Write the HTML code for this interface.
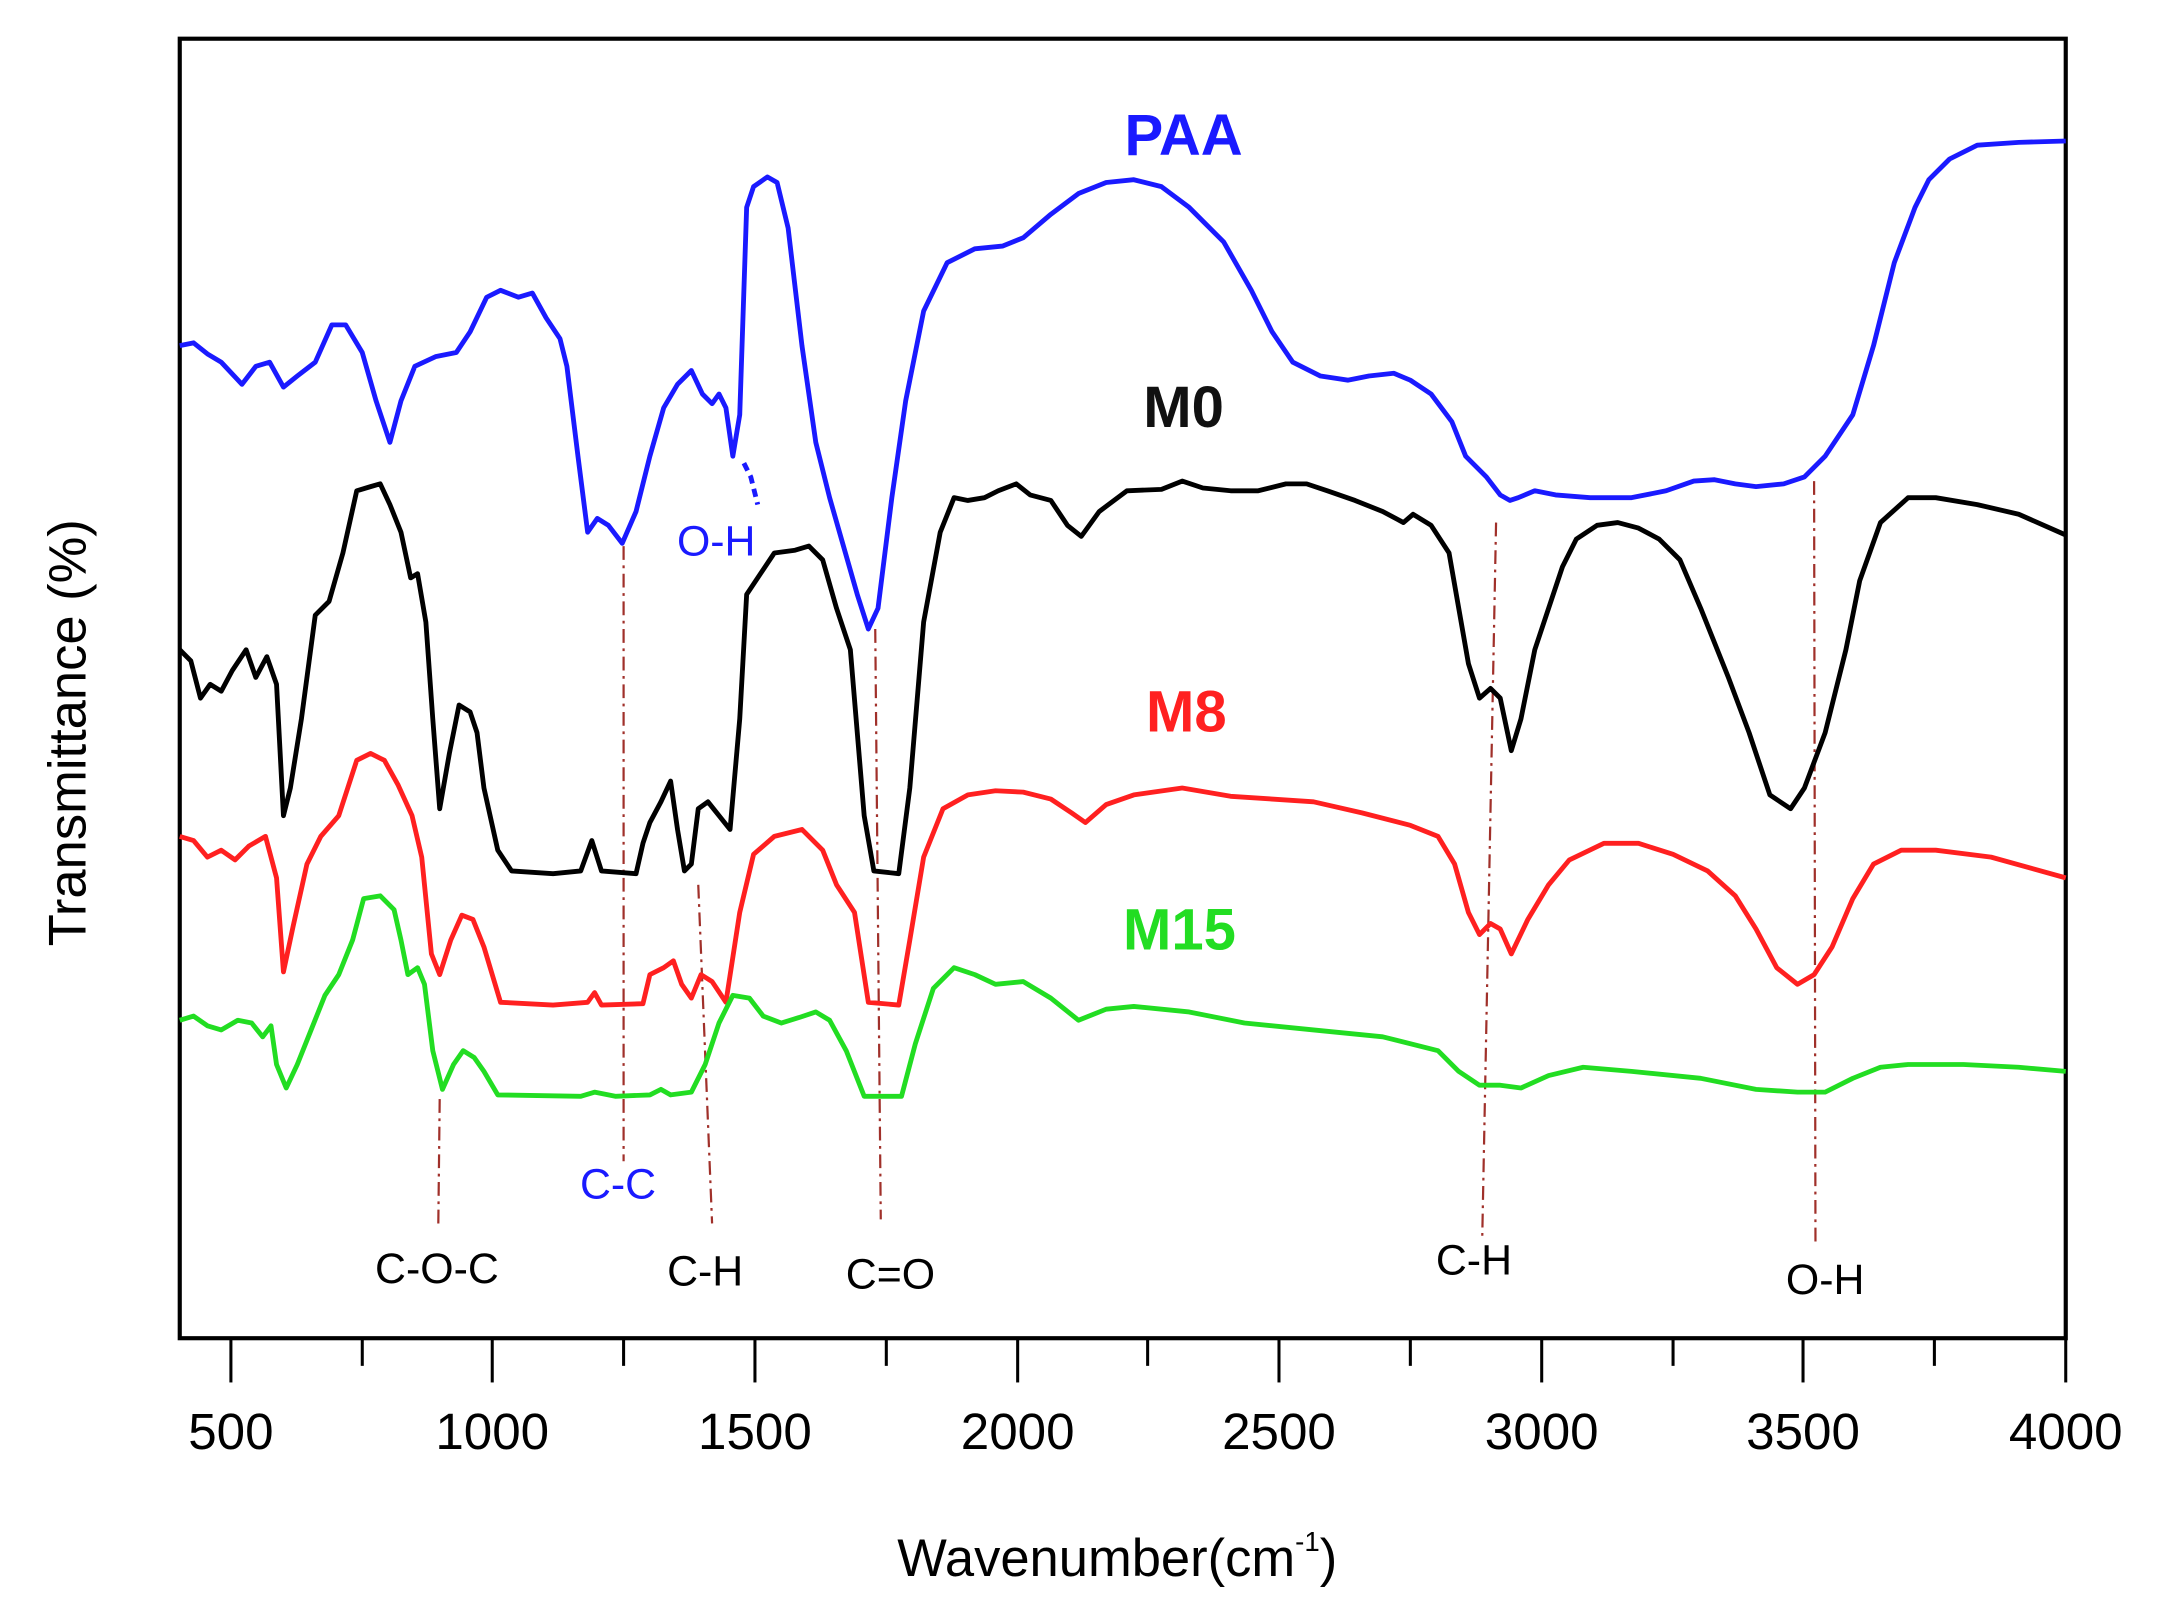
<!DOCTYPE html>
<html><head><meta charset="utf-8"><style>html,body{margin:0;padding:0;background:#fff}svg{display:block}text{font-family:"Liberation Sans",sans-serif}</style></head>
<body>
<svg width="2157" height="1623" viewBox="0 0 1560 1174" preserveAspectRatio="none" xmlns="http://www.w3.org/2000/svg">
<rect x="130" y="28" width="1364" height="940" fill="none" stroke="#000" stroke-width="3"/>
<g stroke="#000" stroke-width="2.2">
<line x1="167" y1="968" x2="167" y2="1000"/><line x1="262" y1="968" x2="262" y2="988"/>
<line x1="356" y1="968" x2="356" y2="1000"/><line x1="451" y1="968" x2="451" y2="988"/>
<line x1="546" y1="968" x2="546" y2="1000"/><line x1="641" y1="968" x2="641" y2="988"/>
<line x1="736" y1="968" x2="736" y2="1000"/><line x1="830" y1="968" x2="830" y2="988"/>
<line x1="925" y1="968" x2="925" y2="1000"/><line x1="1020" y1="968" x2="1020" y2="988"/>
<line x1="1115" y1="968" x2="1115" y2="1000"/><line x1="1210" y1="968" x2="1210" y2="988"/>
<line x1="1304" y1="968" x2="1304" y2="1000"/><line x1="1399" y1="968" x2="1399" y2="988"/>
<line x1="1494" y1="968" x2="1494" y2="1000"/>
</g>
<g font-size="37" text-anchor="middle" fill="#000">
<text x="167" y="1048">500</text><text x="356" y="1048">1000</text><text x="546" y="1048">1500</text>
<text x="736" y="1048">2000</text><text x="925" y="1048">2500</text><text x="1115" y="1048">3000</text>
<text x="1304" y="1048">3500</text><text x="1494" y="1048">4000</text>
</g>
<text x="808" y="1140" font-size="38" text-anchor="middle">Wavenumber(cm<tspan font-size="20" dy="-18">-1</tspan><tspan dy="18">)</tspan></text>
<text transform="translate(62,530) rotate(-90)" font-size="38" text-anchor="middle">Transmittance (%)</text>
<g fill="none" stroke="#a0302a" stroke-width="1.6" stroke-dasharray="10,4,2,4">
<line x1="451" y1="395" x2="451" y2="840"/>
<line x1="318" y1="795" x2="317" y2="885"/>
<line x1="505" y1="640" x2="515" y2="885"/>
<line x1="633" y1="455" x2="637" y2="882"/>
<line x1="1082" y1="378" x2="1072" y2="895"/>
<line x1="1312" y1="348" x2="1313" y2="900"/>
</g>
<g fill="none" stroke-width="3.5" stroke-linejoin="round">
<polyline stroke="#1a1aff" points="130,250 140,248 150,256 160,262 175,278 185,265 195,262 205,280 215,272 228,262 240,235 250,235 262,255 272,290 282,320 290,290 300,265 315,258 330,255 340,240 352,215 362,210 375,215 385,212 395,230 405,245 410,265 418,330 425,385 432,375 440,380 450,393 460,370 470,330 480,295 490,278 500,268 508,285 515,292 520,285 525,295 530,330 535,300 540,150 545,135 555,128 562,132 570,165 580,250 590,320 600,360 610,395 620,430 628,455 635,440 645,360 655,290 668,225 685,190 705,180 725,178 740,172 760,155 780,140 800,132 820,130 840,135 860,150 885,175 905,210 920,240 935,262 955,272 975,275 990,272 1008,270 1020,275 1035,285 1050,305 1060,330 1075,345 1085,358 1092,362 1098,360 1110,355 1125,358 1150,360 1180,360 1205,355 1225,348 1240,347 1255,350 1270,352 1290,350 1305,345 1320,330 1340,300 1355,250 1370,190 1385,150 1395,130 1410,115 1430,105 1460,103 1494,102"/>
<polyline stroke="#1a1aff" stroke-dasharray="6,4" points="538,335 543,345 548,365"/>
<polyline stroke="#000" points="130,470 138,478 145,505 152,495 160,500 168,485 178,470 185,490 193,475 200,495 205,590 210,570 218,520 228,445 238,435 248,400 258,355 268,352 275,350 282,365 290,385 297,418 302,415 308,450 313,520 318,585 325,545 332,510 340,515 345,530 350,570 360,615 370,630 400,632 420,630 428,608 435,630 460,632 465,610 470,595 478,580 485,565 490,600 495,630 500,625 505,585 512,580 520,590 528,600 535,520 540,430 550,415 560,400 575,398 585,395 595,405 605,440 615,470 625,590 632,630 650,632 658,570 668,450 680,385 690,360 700,362 712,360 722,355 735,350 745,358 760,362 772,380 782,388 795,370 815,355 840,354 855,348 870,353 890,355 910,355 930,350 945,350 960,355 980,362 1000,370 1015,378 1022,372 1035,380 1048,400 1055,440 1062,480 1070,505 1078,498 1085,505 1093,543 1100,520 1110,470 1120,440 1130,410 1140,390 1155,380 1170,378 1185,382 1200,390 1215,405 1230,440 1250,490 1265,530 1280,575 1295,585 1305,570 1320,530 1335,470 1345,420 1360,378 1380,360 1400,360 1430,365 1460,372 1494,387"/>
<polyline stroke="#ff2020" points="130,605 140,608 150,620 160,615 170,622 180,612 192,605 200,635 205,703 212,670 222,625 232,605 245,590 258,550 268,545 278,550 288,568 298,590 305,620 312,690 318,705 326,680 334,662 342,665 350,685 362,725 400,727 425,725 430,718 435,727 465,726 470,705 480,700 487,695 493,712 500,722 507,705 515,710 525,725 535,660 545,618 560,605 580,600 595,615 605,640 618,660 628,725 650,727 658,680 668,620 682,585 700,575 720,572 740,573 760,578 775,588 785,595 800,582 820,575 855,570 890,576 920,578 950,580 985,588 1020,597 1040,605 1052,625 1062,660 1070,676 1078,668 1085,672 1093,690 1105,665 1120,640 1135,622 1160,610 1185,610 1210,618 1235,630 1255,648 1270,672 1285,700 1300,712 1312,705 1325,685 1340,650 1355,625 1375,615 1400,615 1440,620 1494,635"/>
<polyline stroke="#22dd22" points="130,738 140,735 150,742 160,745 172,738 182,740 190,750 196,742 200,770 207,787 215,770 225,745 235,720 245,705 255,680 263,650 275,648 285,658 290,680 295,705 302,700 307,712 313,760 320,788 328,770 335,760 343,765 350,775 360,792 420,793 430,790 445,793 470,792 478,788 485,792 500,790 510,770 520,740 530,720 542,722 552,735 565,740 578,736 590,732 600,738 612,760 625,793 652,793 662,755 675,715 690,700 705,705 720,712 740,710 760,722 780,738 800,730 820,728 860,732 900,740 950,745 1000,750 1040,760 1055,775 1070,785 1085,785 1100,787 1120,778 1145,772 1180,775 1230,780 1270,788 1300,790 1320,790 1340,780 1360,772 1380,770 1420,770 1460,772 1494,775"/>
</g>
<g font-weight="bold" font-size="42" text-anchor="middle">
<text x="856" y="112" fill="#1a1aff">PAA</text>
<text x="856" y="309" fill="#111">M0</text>
<text x="858" y="529" fill="#ff2020">M8</text>
<text x="853" y="687" fill="#22dd22">M15</text>
</g>
<g font-size="31" text-anchor="middle">
<text x="518" y="402" fill="#1a1aff">O-H</text>
<text x="447" y="867" fill="#1a1aff">C-C</text>
<text x="316" y="928">C-O-C</text>
<text x="510" y="930">C-H</text>
<text x="644" y="932">C=O</text>
<text x="1066" y="922">C-H</text>
<text x="1320" y="936">O-H</text>
</g>
</svg>
</body></html>
